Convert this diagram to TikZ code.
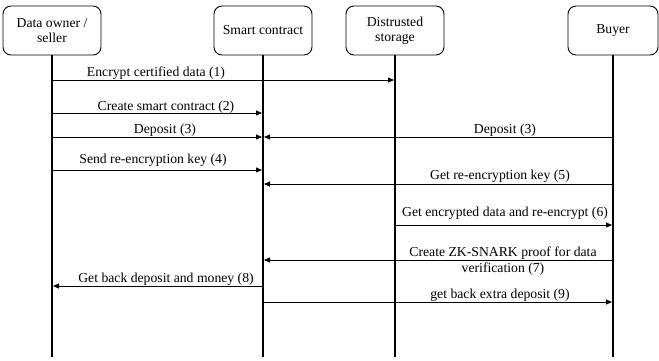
\documentclass[tikz,border=0pt]{standalone}
\usepackage{fontspec}
\setmainfont{Liberation Serif}
\usetikzlibrary{arrows.meta}

\begin{document}
\begin{tikzpicture}[x=1pt,y=-1pt,>={Triangle[length=6pt,width=5pt]},
    font=\fontsize{13.7}{15.5}\selectfont,
    actor/.style={draw,line width=.9pt,rounded corners=8pt,align=center,minimum height=49pt,inner sep=2pt},
    lifeline/.style={line width=2pt},
    msg/.style={->,line width=.9pt,shorten >=1pt},
    lbl/.style={anchor=base,align=center,inner sep=0pt}]
        % background
        \useasboundingbox (0,0) rectangle (659,360);
        \node[actor,minimum width=98pt] (owner)    at (52,30.5)  {Data owner /\\seller};
        \node[actor,minimum width=98pt] (contract) at (263,30.5) {Smart contract};
        \node[actor,minimum width=98pt] (storage)  at (395,30.5) {Distrusted\\storage};
        \node[actor,minimum width=90pt] (buyer)    at (613,30.5) {Buyer};
        \foreach \a in {owner,contract,storage,buyer} \draw[lifeline] (\a.south) -- (\a.south |- 0,357);
        % messages
        \foreach \f/\t/\y/\lx/\ly/\txt [count=\i] in {
                owner/storage/80/156/76/Encrypt certified data (1),
                owner/contract/113/166/110/Create smart contract (2),
                owner/contract/137/165/133/Deposit (3),
                buyer/contract/137/505/133/Deposit (3),
                owner/contract/170/153/163/Send re-encryption key (4),
                buyer/contract/184/500/179/Get re-encryption key (5),
                storage/buyer/225/505/216/Get encrypted data and re-encrypt (6),
                buyer/contract/260/503/272/Create ZK-SNARK proof for data\\verification (7),
                contract/owner/286/166/282/Get back deposit and money (8),
                contract/buyer/302/500/298/get back extra deposit (9)}
        {
          \draw[msg] (\f |- 0,\y) -- (\t |- 0,\y);
          \node[lbl] (lbl\i) at (\lx,\ly) {\txt};
        }
\end{tikzpicture}
\end{document}
